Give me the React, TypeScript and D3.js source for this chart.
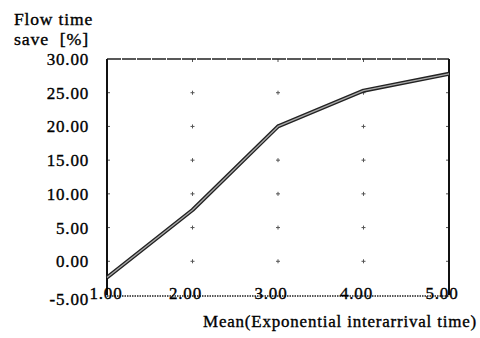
import React, { useEffect, useRef } from "react";
import * as d3 from "d3";

const meanTimes = [1, 2, 3, 4, 5];
const flowTimeSave = [-2.4, 7.6, 20.0, 25.3, 27.8];
const yTicks = [-5, 0, 5, 10, 15, 20, 25, 30];
const gridX = [2, 3, 4];
const gridY = [0, 5, 10, 15, 20, 25];

const App: React.FC = () => {
  const svgRef = useRef<SVGSVGElement>(null);

  useEffect(() => {
    if (!svgRef.current) return;
    const width = 480;
    const height = 338;
    const margin = { top: 59, right: 31, bottom: 43, left: 107 };

    const root = d3.select(svgRef.current);
    root.selectAll("*").remove();
    root.attr("width", width).attr("height", height);

    const x = d3
      .scaleLinear()
      .domain([1, 5])
      .range([margin.left, width - margin.right]);
    const y = d3
      .scaleLinear()
      .domain([-5, 30])
      .range([height - margin.bottom, margin.top]);

    // plus marks at the grid points
    const plus = root.append("g").attr("stroke", "#555").attr("stroke-width", 1);
    gridX.forEach((gx) => {
      gridY.forEach((gy) => {
        plus
          .append("path")
          .attr("d", `M${x(gx) - 2},${y(gy)}h4M${x(gx)},${y(gy) - 2}v4`);
      });
      plus.append("path").attr("d", `M${x(gx)},${y(30)}v3`);
    });
    gridY.forEach((gy) => {
      plus.append("path").attr("d", `M${x(1)},${y(gy)}h3`);
      plus.append("path").attr("d", `M${x(5)},${y(gy)}h-3`);
    });

    // frame
    root
      .append("line")
      .attr("x1", x(1))
      .attr("x2", x(5))
      .attr("y1", y(30))
      .attr("y2", y(30))
      .attr("stroke", "#222")
      .attr("stroke-width", 1.6)
      .attr("stroke-dasharray", "14,1");
    root
      .append("line")
      .attr("x1", x(1))
      .attr("x2", x(1))
      .attr("y1", y(30))
      .attr("y2", y(-5))
      .attr("stroke", "#111")
      .attr("stroke-width", 2);
    root
      .append("line")
      .attr("x1", x(5))
      .attr("x2", x(5))
      .attr("y1", y(30))
      .attr("y2", y(-5))
      .attr("stroke", "#111")
      .attr("stroke-width", 2);
    root
      .append("line")
      .attr("x1", x(1))
      .attr("x2", x(5))
      .attr("y1", y(-5) + 1)
      .attr("y2", y(-5) + 1)
      .attr("stroke", "#222")
      .attr("stroke-width", 1.3)
      .attr("stroke-dasharray", "1.5,1");

    // the series, drawn as a double line
    const line = d3
      .line<number>()
      .x((_, i) => x(meanTimes[i]))
      .y((d) => y(d));
    root
      .append("path")
      .datum(flowTimeSave)
      .attr("d", line)
      .attr("fill", "none")
      .attr("stroke", "#222")
      .attr("stroke-width", 4)
      .attr("stroke-linejoin", "round");
    root
      .append("path")
      .datum(flowTimeSave)
      .attr("d", line)
      .attr("fill", "none")
      .attr("stroke", "#aaa")
      .attr("stroke-width", 1.3)
      .attr("stroke-linejoin", "round");

    const text = (sel: d3.Selection<SVGTextElement, any, any, any>) =>
      sel
        .style("font-family", "'Liberation Serif', 'Times New Roman', serif")
        .style("font-size", "17px")
        .style("letter-spacing", "0.8px")
        .attr("fill", "#000")
        .attr("stroke", "#000")
        .attr("stroke-width", 0.35);

    // y tick labels
    root
      .append("g")
      .selectAll("text")
      .data(yTicks)
      .enter()
      .append("text")
      .call(text)
      .attr("x", 89)
      .attr("y", (d) => y(d) + (d === -5 ? 10 : 6))
      .attr("text-anchor", "end")
      .text((d) => d.toFixed(2));

    // x tick labels
    root
      .append("g")
      .selectAll("text")
      .data(meanTimes)
      .enter()
      .append("text")
      .call(text)
      .attr("x", (d) => x(d) - (d === 1 ? 1 : 7))
      .attr("y", y(-5) + 4)
      .attr("text-anchor", "middle")
      .text((d) => d.toFixed(2));

    // titles
    root
      .append("text")
      .call(text)
      .attr("x", 14)
      .attr("y", 25)
      .attr("textLength", 79)
      .attr("lengthAdjust", "spacingAndGlyphs")
      .text("Flow time");
    root
      .append("text")
      .call(text)
      .attr("x", 14)
      .attr("y", 45)
      .attr("xml:space", "preserve")
      .attr("textLength", 75)
      .attr("lengthAdjust", "spacingAndGlyphs")
      .text("save  [%]");
    root
      .append("text")
      .call(text)
      .attr("x", 203)
      .attr("y", 327)
      .attr("textLength", 274)
      .attr("lengthAdjust", "spacingAndGlyphs")
      .text("Mean(Exponential interarrival time)");
  }, []);

  return (
    <svg
      ref={svgRef}
      style={{ position: "absolute", left: 0, top: 0, background: "#fff" }}
    />
  );
};

export default App;
